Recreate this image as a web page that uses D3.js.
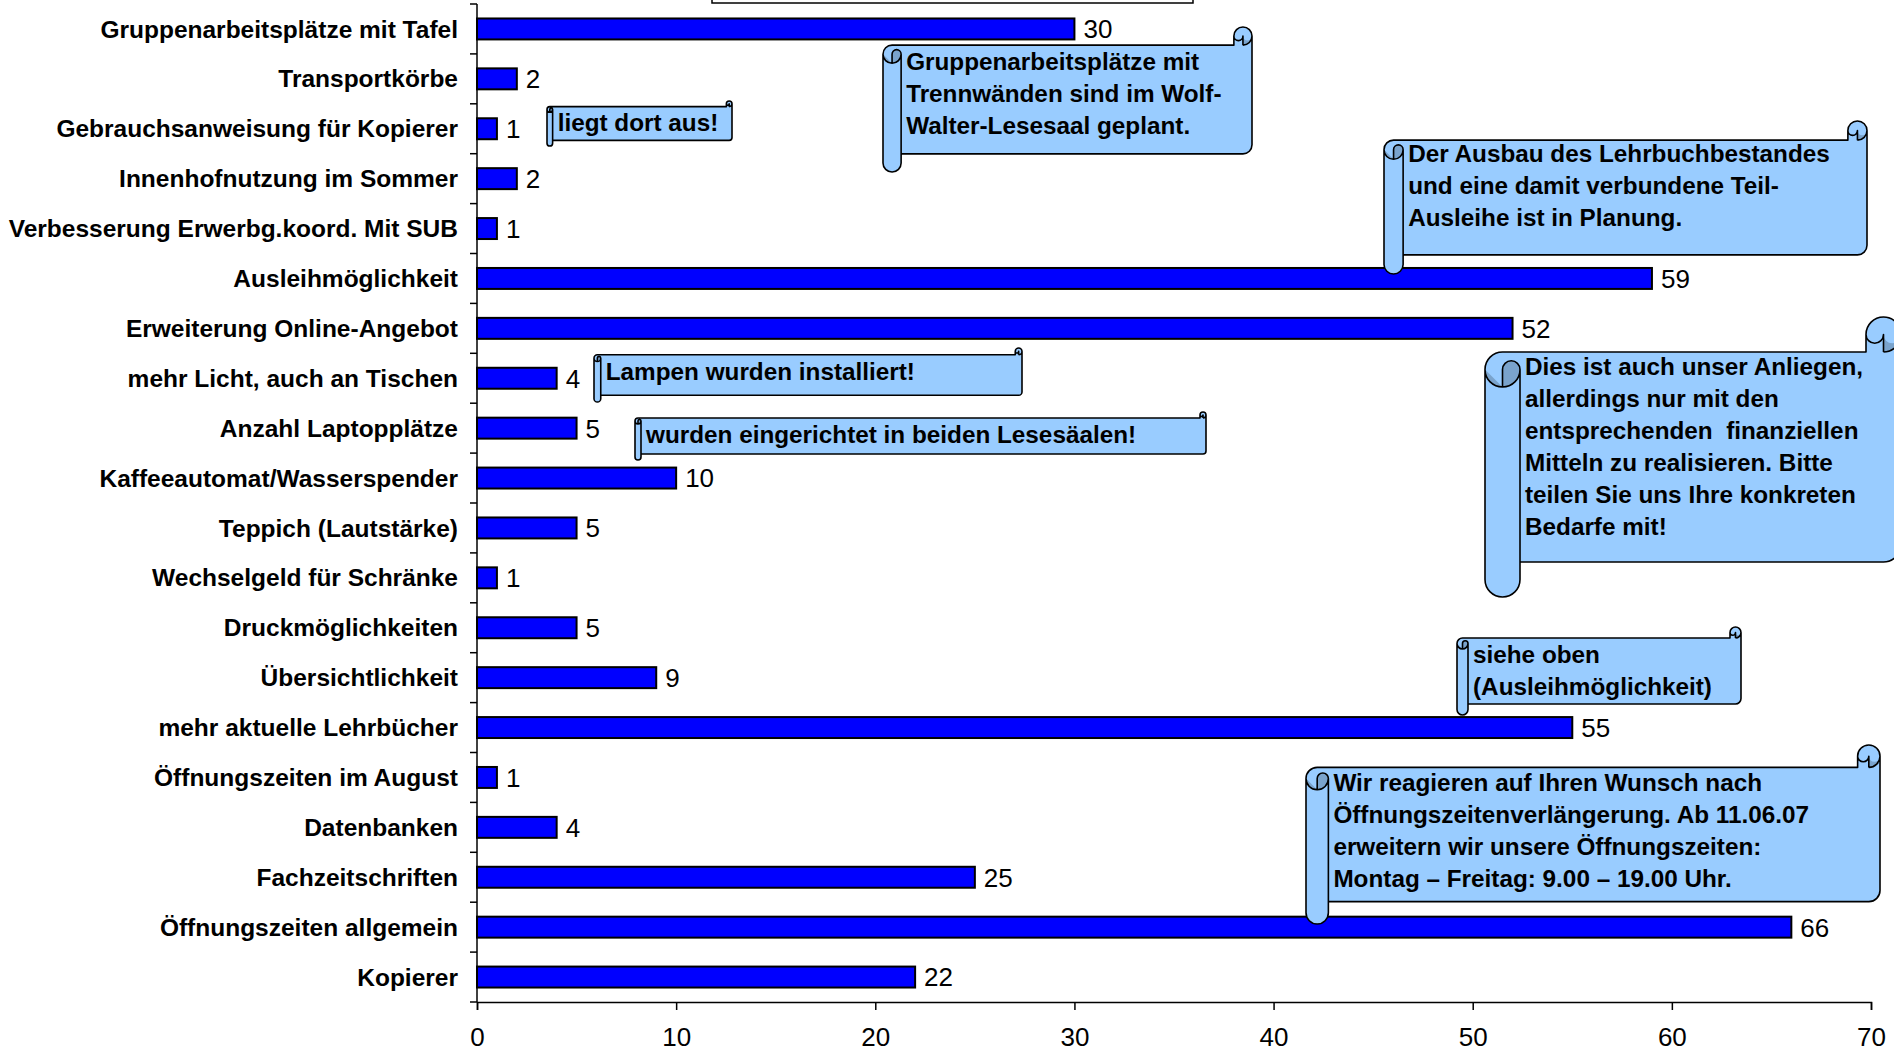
<!DOCTYPE html>
<meta charset="utf-8">
<title>Wünsche und Anregungen</title>
<script src="https://d3js.org/d3.v7.min.js"></script>
<style>
  body { margin: 0; background: #fff; }
  svg { display: block; font-family: "Liberation Sans", Arial, sans-serif; }
  .cat { font-size: 24.5px; font-weight: bold; text-anchor: end; }
  .val { font-size: 26px; }
  .tick text { font-size: 26px; font-family: "Liberation Sans", Arial, sans-serif; }
  .note text { font-size: 24.3px; font-weight: bold; white-space: pre; }
</style>
<body>
<svg width="1894" height="1052"></svg>
<script>

  // data, top to bottom as in the chart
  var categories = [
    "Gruppenarbeitsplätze mit Tafel", "Transportkörbe", "Gebrauchsanweisung für Kopierer",
    "Innenhofnutzung im Sommer", "Verbesserung Erwerbg.koord. Mit SUB", "Ausleihmöglichkeit",
    "Erweiterung Online-Angebot", "mehr Licht, auch an Tischen", "Anzahl Laptopplätze",
    "Kaffeeautomat/Wasserspender", "Teppich (Lautstärke)", "Wechselgeld für Schränke",
    "Druckmöglichkeiten", "Übersichtlichkeit", "mehr aktuelle Lehrbücher",
    "Öffnungszeiten im August", "Datenbanken", "Fachzeitschriften",
    "Öffnungszeiten allgemein", "Kopierer"
  ];
  var counts = [30, 2, 1, 2, 1, 59, 52, 4, 5, 10, 5, 1, 5, 9, 55, 1, 4, 25, 66, 22];
  var xTicks = [0, 10, 20, 30, 40, 50, 60, 70];

  // texts of the scroll notes
  var noteTexts = [
    ["Gruppenarbeitsplätze mit", "Trennwänden sind im Wolf-", "Walter-Lesesaal geplant."],
    ["liegt dort aus!"],
    ["Der Ausbau des Lehrbuchbestandes", "und eine damit verbundene Teil-", "Ausleihe ist in Planung."],
    ["Lampen wurden installiert!"],
    ["wurden eingerichtet in beiden Lesesäalen!"],
    ["Dies ist auch unser Anliegen,", "allerdings nur mit den", "entsprechenden  finanziellen",
     "Mitteln zu realisieren. Bitte", "teilen Sie uns Ihre konkreten", "Bedarfe mit!"],
    ["siehe oben", "(Ausleihmöglichkeit)"],
    ["Wir reagieren auf Ihren Wunsch nach", "Öffnungszeitenverlängerung. Ab 11.06.07",
     "erweitern wir unsere Öffnungszeiten:", "Montag – Freitag: 9.00 – 19.00 Uhr."]
  ];
  // layout of the notes: box [left, top, right, bottom] and first baseline
  var noteLayout = [
    { box: [883, 27, 1252, 172], base: 70 },
    { box: [547, 101, 732, 146], base: 131 },
    { box: [1384, 121, 1867, 274], base: 162 },
    { box: [594, 348, 1022, 402], base: 380 },
    { box: [635, 412, 1206, 460], base: 443 },
    { box: [1485, 317, 1901, 597], base: 375 },
    { box: [1457, 627, 1741, 715], base: 663 },
    { box: [1306, 745, 1880, 924], base: 791 }
  ];

  var svg = d3.select("svg");

  var x = d3.scaleLinear().domain([0, 70]).range([477, 1871]);
  var y = d3.scaleBand().domain(categories).range([4, 1002])
    .paddingInner(0.58).paddingOuter(0.29);

  // cut-off box at the top edge
  svg.append("rect")
    .attr("x", 712).attr("y", -20).attr("width", 481).attr("height", 23)
    .attr("fill", "#fff").attr("stroke", "#000").attr("stroke-width", 1.5);

  // y axis: line and ticks between the categories
  var yg = svg.append("g");
  yg.append("line")
    .attr("x1", x(0)).attr("x2", x(0)).attr("y1", y.range()[0]).attr("y2", y.range()[1])
    .attr("stroke", "#000").attr("stroke-width", 1.5);
  yg.selectAll("line.tk")
    .data(d3.range(categories.length + 1))
    .enter().append("line")
    .attr("class", "tk")
    .attr("x1", x(0) - 7).attr("x2", x(0))
    .attr("y1", function (i) { return y.range()[0] + i * y.step(); })
    .attr("y2", function (i) { return y.range()[0] + i * y.step(); })
    .attr("stroke", "#000").attr("stroke-width", 1.5);

  svg.selectAll("text.cat")
    .data(categories)
    .enter().append("text")
    .attr("class", "cat")
    .attr("x", 458)
    .attr("y", function (d) { return y(d) + y.bandwidth() / 2; })
    .attr("dy", "0.35em")
    .text(function (d) { return d; });

  // x axis
  var xAxis = d3.axisBottom(x).tickValues(xTicks).tickSize(8).tickPadding(18);
  var xg = svg.append("g")
    .attr("class", "x axis")
    .attr("transform", "translate(0," + y.range()[1] + ")")
    .call(xAxis);
  xg.select(".domain").attr("stroke-width", 1.5);
  xg.selectAll(".tick line").attr("stroke-width", 1.5);
  xg.selectAll(".tick text").attr("fill", "#000");

  // bars
  svg.selectAll("rect.bar")
    .data(counts)
    .enter().append("rect")
    .attr("class", "bar")
    .attr("x", x(0))
    .attr("y", function (d, i) { return y(categories[i]); })
    .attr("width", function (d) { return x(d) - x(0); })
    .attr("height", y.bandwidth())
    .attr("fill", "#0000ff")
    .attr("stroke", "#000")
    .attr("stroke-width", 2);

  svg.selectAll("text.val")
    .data(counts)
    .enter().append("text")
    .attr("class", "val")
    .attr("x", function (d) { return x(d) + 9; })
    .attr("y", function (d, i) { return y(categories[i]) + y.bandwidth() / 2; })
    .attr("dy", "0.36em")
    .text(function (d) { return d; });

  // horizontal scroll shape, like the office preset
  function pathMaker() {
    var p = { d: "", cx: 0, cy: 0 };
    p.M = function (a, b) { p.d += "M" + a + "," + b; p.cx = a; p.cy = b; return p; };
    p.L = function (a, b) { p.d += "L" + a + "," + b; p.cx = a; p.cy = b; return p; };
    p.A = function (r, st, sw) {
      var k = Math.PI / 180;
      var ox = p.cx - r * Math.cos(st * k), oy = p.cy - r * Math.sin(st * k);
      var ex = ox + r * Math.cos((st + sw) * k), ey = oy + r * Math.sin((st + sw) * k);
      p.d += "A" + r + "," + r + " 0 " + (Math.abs(sw) > 180 ? 1 : 0) + " " + (sw > 0 ? 1 : 0) + " " + ex + "," + ey;
      p.cx = ex; p.cy = ey;
      return p;
    };
    p.Z = function () { p.d += "Z"; return p; };
    return p;
  }

  function scroll(g, b) {
    var l = b[0], t = b[1], r = b[2], bt = b[3];
    var c = 0.125 * Math.min(r - l, bt - t), c2 = c / 2, c4 = c / 4;
    var y3 = t + c + c2, y4 = t + 2 * c, y5 = bt - c - c2, y6 = bt - c, y7 = bt - c2;
    var x3 = r - c, x4 = r - c2;

    var outline = pathMaker()
      .M(l, y3).A(c2, 180, 90).L(x3, t + c).L(x3, t + c2).A(c2, 180, 180)
      .L(r, y5).A(c2, 0, 90).L(l + c, y6).L(l + c, y7).A(c2, 0, 180).Z();
    g.append("path").attr("d", outline.d).attr("fill", "#99ccff");

    var dark = pathMaker()
      .M(l + c2, y4).L(l + c2, y3).A(c4, 180, 180).A(c2, 0, 180).Z()
      .M(x4, t + c).A(c2, 90, -90).A(c4, 0, 180).Z();
    g.append("path").attr("d", dark.d).attr("fill", "#7aa3cc");

    var lines = pathMaker()
      .M(l + c2, y4).L(l + c2, y3).A(c4, 180, 180).A(c2, 0, 180)
      .M(l + c, y3).L(l + c, y6)
      .M(x4, t + c).L(x4, t + c2).A(c4, 0, 180)
      .M(x4, t + c).A(c2, 90, -90);
    g.append("path").attr("d", outline.d + lines.d)
      .attr("fill", "none").attr("stroke", "#000").attr("stroke-width", 1.6)
      .attr("stroke-linejoin", "round");
  }

  noteTexts.forEach(function (lines, i) {
    var lay = noteLayout[i];
    var g = svg.append("g").attr("class", "note");
    scroll(g, lay.box);
    var c = 0.125 * Math.min(lay.box[2] - lay.box[0], lay.box[3] - lay.box[1]);
    g.selectAll("text")
      .data(lines)
      .enter().append("text")
      .attr("x", lay.box[0] + c + 5)
      .attr("y", function (d, j) { return lay.base + j * 32; })
      .attr("xml:space", "preserve")
      .text(function (d) { return d; });
  });

</script>
</body>
